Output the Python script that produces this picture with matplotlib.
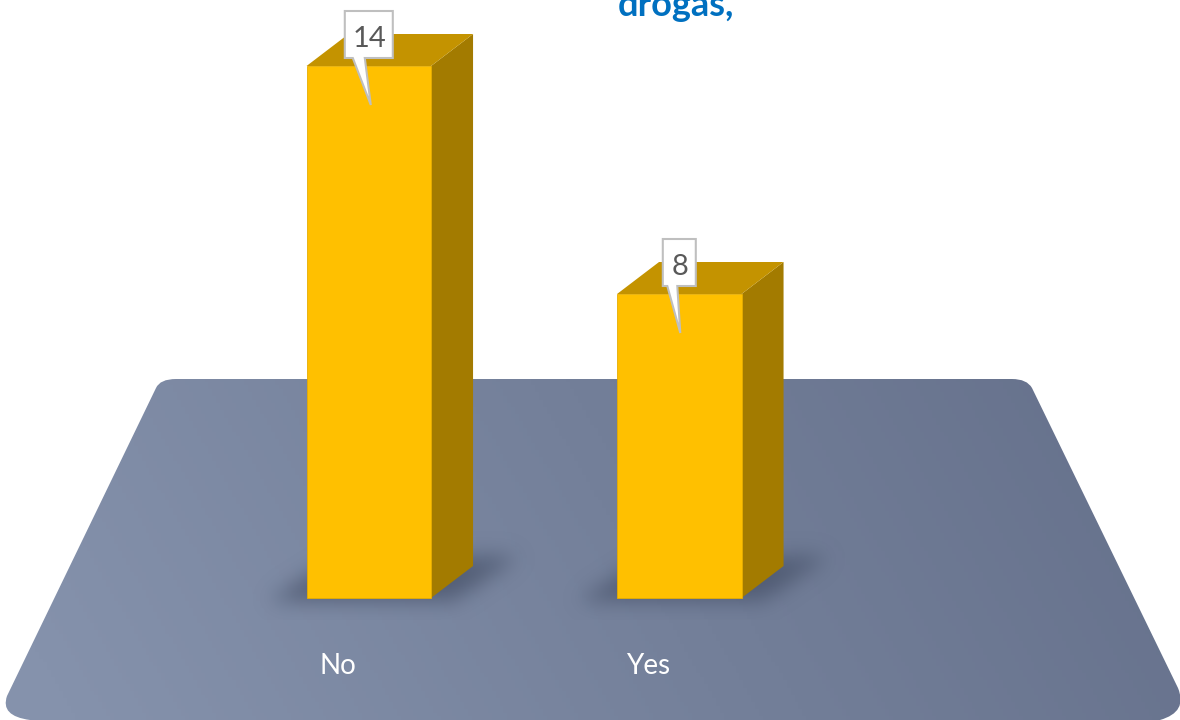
"""Recreate the 3D-look column chart on a slate floor panel."""

import numpy as np
import matplotlib
matplotlib.use('Agg')
import matplotlib.pyplot as plt
from matplotlib.colors import LinearSegmentedColormap
from matplotlib.patches import PathPatch, Polygon
from matplotlib.path import Path

plt.rcParams['font.family'] = ['Lato', 'DejaVu Sans']

categories = ['No', 'Yes']
values = [14, 8]
title_text = 'drogas,'

W, H = 1180, 720
BAR_PX = 310.5    # distance between bar centres
UNIT_PX = 38      # pixels per count
X0_PX = 368.8     # centre of first bar
Y0_PX = 598       # baseline


def dx(px):
    return px / BAR_PX


def dy(px):
    return px / UNIT_PX


def to_data(px, py):
    return (px - X0_PX) / BAR_PX, (Y0_PX - py) / UNIT_PX


def floor_path():
    # rounded trapezoid, given in pixels
    pts = [(156, 388), (160, 379), (176, 379), (1012, 379), (1027, 379), (1032, 388),
           (1178, 688), (1188, 712), (1160, 720), (30, 720), (0, 716), (7, 696),
           (156, 388)]
    codes = [Path.MOVETO, Path.CURVE3, Path.CURVE3, Path.LINETO, Path.CURVE3, Path.CURVE3,
             Path.LINETO, Path.CURVE3, Path.CURVE3, Path.LINETO, Path.CURVE3, Path.CURVE3,
             Path.CLOSEPOLY]
    return Path([to_data(*p) for p in pts], codes)


def draw_floor(ax, extent):
    cmap = LinearSegmentedColormap.from_list('floor', ['#636E89', '#737F99', '#8592AC'])
    xx, yy = np.meshgrid(np.linspace(0, 1, 300), np.linspace(0, 1, 200))
    # lighter towards the lower left corner
    shade = (1 - xx) * 0.85 + yy * 0.3
    im = ax.imshow(shade, extent=extent, origin='upper', aspect='auto', cmap=cmap,
                   vmin=0.1, vmax=1.1, zorder=1)
    patch = PathPatch(floor_path(), transform=ax.transData, fc='none', ec='none')
    ax.add_patch(patch)
    im.set_clip_path(patch)


def blur(a, sigma):
    r = int(3 * sigma)
    k = np.exp(-0.5 * (np.arange(-r, r + 1) / sigma) ** 2)
    k /= k.sum()
    a = np.apply_along_axis(lambda m: np.convolve(m, k, mode='same'), 0, a)
    return np.apply_along_axis(lambda m: np.convolve(m, k, mode='same'), 1, a)


def draw_shadow(ax, i):
    # soft slanted shadow on the floor behind a bar
    cx = X0_PX + i * BAR_PX
    x0, y0 = cx - 180, 510
    w, h = 420, 110
    px, py = np.meshgrid(np.arange(w) + x0, np.arange(h) + y0)
    shape = Path([(cx - 100, 600), (cx + 85, 600), (cx + 150, 556), (cx - 30, 556)])
    inside = shape.contains_points(np.c_[px.ravel(), py.ravel()]).reshape(px.shape)
    alpha = blur(inside.astype(float), 10) * 0.8
    rgba = np.zeros((h, w, 4))
    rgba[..., :3] = matplotlib.colors.to_rgb('#4A556D')
    rgba[..., 3] = alpha
    left, top = to_data(x0, y0)
    right, bottom = to_data(x0 + w, y0 + h)
    ax.imshow(rgba, extent=(left, right, bottom, top), origin='upper', aspect='auto', zorder=2)


def draw_callout(ax, x, v, label):
    half = dx((18 + 15 * len(label)) / 2)
    low, high = v + dy(8), v + dy(55)
    neck_l, neck_r = (dx(16), dx(4)) if len(label) > 1 else (dx(12), dx(2))
    tip = dx(2) if len(label) > 1 else dx(1)
    pts = [(x - half, low), (x - half, high), (x + half, high), (x + half, low),
           (x - neck_r, low), (x + tip, v - dy(39)), (x - neck_l, low)]
    ax.add_patch(Polygon(pts, closed=True, fc='white', ec='#BFBFBF', lw=1.5,
                         joinstyle='miter', zorder=6))
    ax.text(x + dx(1), (low + high) / 2 - dy(2), label, ha='center', va='center_baseline',
            fontsize=21, color='#595959', zorder=7)


def main():
    fig = plt.figure(figsize=(W / 100, H / 100), dpi=100)
    ax = fig.add_axes([0, 0, 1, 1])
    x_min, y_top = to_data(0, 0)
    x_max, y_bot = to_data(W, H)
    extent = (x_min, x_max, y_bot, y_top)

    draw_floor(ax, extent)

    x = np.arange(len(values))
    width = dx(124.5)
    depth_x, depth_y = dx(42), dy(32)

    for i, v in zip(x, values):
        draw_shadow(ax, i)
        right = i + width / 2
        left = i - width / 2
        # side and top faces
        ax.add_patch(Polygon([(right, 0), (right + depth_x, depth_y),
                              (right + depth_x, v + depth_y), (right, v)],
                             closed=True, fc='#A37B00', ec='none', zorder=3))
        ax.add_patch(Polygon([(left, v), (left + depth_x, v + depth_y),
                              (right + depth_x, v + depth_y), (right, v)],
                             closed=True, fc='#C49300', ec='none', zorder=3))

    ax.bar(x, values, width=width, color='#FFC000', edgecolor='#E6AD00', linewidth=0.6, zorder=4)

    for i, v in zip(x, values):
        draw_callout(ax, i, v, str(v))

    for i, name in zip(x, categories):
        ax.text(i - dx(31), -dy(68), name, ha='center', va='center', fontsize=20,
                color='white', zorder=5)

    tx, ty = to_data(676, 6)
    ax.text(tx, ty, title_text, ha='center', va='center', fontsize=26, fontweight='bold',
            color='#0070C0', zorder=5)

    ax.set_xlim(x_min, x_max)
    ax.set_ylim(y_bot, y_top)
    ax.axis('off')
    fig.savefig('out.png', dpi=100, facecolor='white')


if __name__ == '__main__':
    main()
